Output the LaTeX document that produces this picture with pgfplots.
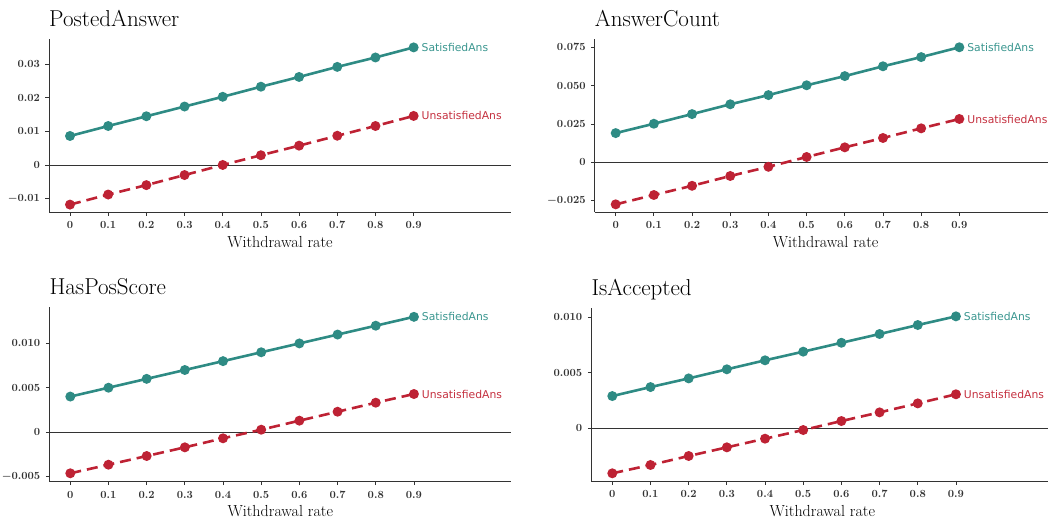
\documentclass[border=0pt]{standalone}
\usepackage{pgfplots}
\pgfplotsset{compat=1.18}
\usepackage{fontspec}
\newfontfamily\dejavu{DejaVu Sans}
\definecolor{tealc}{HTML}{2E8B84}
\definecolor{redc}{HTML}{BE2234}
\definecolor{tealt}{HTML}{3A968F}
\definecolor{redt}{HTML}{C4303F}
\definecolor{axgray}{HTML}{333333}
\pgfplotsset{
  panel/.style={
    scale only axis, width=462pt, anchor=south west,
    xmin=-0.055, xmax=1.155,
    axis x line*=bottom, axis y line*=left,
    axis line style={-, axgray, line width=0.9pt},
    tick align=outside, major tick length=3.5pt,
    tick style={axgray, line width=0.8pt},
    scaled y ticks=false, scaled x ticks=false,
    xtick={0,0.1,0.2,0.3,0.4,0.5,0.6,0.7,0.8,0.9},
    xticklabels={$0$,$0.1$,$0.2$,$0.3$,$0.4$,$0.5$,$0.6$,$0.7$,$0.8$,$0.9$},
    tick label style={font=\fontsize{11}{12}\selectfont\boldmath, text=axgray},
    xticklabel style={yshift=-2.5pt},
    yticklabel style={xshift=-2pt},
    xlabel={Withdrawal rate},
    xlabel style={font=\fontsize{16}{18}\selectfont, at={(axis description cs:0.5,0)}, anchor=base, yshift=-35pt},
    clip=false,
  },
  sat/.style={tealc, line width=2.6pt, mark=*, mark size=3.6pt, mark options={solid}},
  unsat/.style={redc, line width=2.6pt, mark=*, mark size=3.6pt, mark options={solid}, dash pattern=on 11pt off 6pt},
}
\newcommand{\paneltitle}[1]{\node[anchor=base west, inner sep=0pt, font=\fontsize{23}{26}\selectfont] at (rel axis cs:0,1) [yshift=12.5pt] {#1};}
\newcommand{\zeroline}{\draw[axgray, line width=0.8pt] ({rel axis cs:0,0} |- {axis cs:0,0}) -- ({rel axis cs:1,0} |- {axis cs:0,0});}
\newcommand{\lab}[3]{\node[anchor=west, text=#1, font=\dejavu\fontsize{10.8}{12}\selectfont, xshift=4.5pt] at (axis cs:0.9,#2) {#3};}
\begin{document}
\begin{tikzpicture}
\useasboundingbox (0,0) rectangle (1048pt,523pt);
\clip (0,0) rectangle (1048pt,523pt);
% Panel 1
\begin{axis}[panel, at={(49pt,311pt)}, height=173pt, ymin=-0.0140, ymax=0.0375,
  ytick={-0.01,0,0.01,0.02,0.03}, yticklabels={$-0.01$,$0$,$0.01$,$0.02$,$0.03$}]
\zeroline
\addplot[sat] coordinates {(0,0.00863) (0.1,0.0116) (0.2,0.0145) (0.3,0.0174) (0.4,0.0203) (0.5,0.0233) (0.6,0.0262) (0.7,0.0292) (0.8,0.0320) (0.9,0.0350)};
\addplot[unsat] coordinates {(0,-0.0118) (0.1,-0.0088) (0.2,-0.0060) (0.3,-0.0030) (0.4,0.0000) (0.5,0.0029) (0.6,0.00575) (0.7,0.0087) (0.8,0.0116) (0.9,0.0146)};
\lab{tealt}{0.0350}{SatisfiedAns}
\lab{redt}{0.0146}{UnsatisfiedAns}
\paneltitle{PostedAnswer}
\end{axis}
% Panel 2
\begin{axis}[panel, at={(594.7pt,311pt)}, height=173pt, ymin=-0.0324, ymax=0.0805,
  ytick={-0.025,0,0.025,0.05,0.075}, yticklabels={$-0.025$,$0$,$0.025$,$0.050$,$0.075$}]
\zeroline
\addplot[sat] coordinates {(0,0.0191) (0.1,0.0252) (0.2,0.0315) (0.3,0.0379) (0.4,0.0439) (0.5,0.0503) (0.6,0.0563) (0.7,0.0627) (0.8,0.0687) (0.9,0.0751)};
\addplot[unsat] coordinates {(0,-0.0274) (0.1,-0.0213) (0.2,-0.0153) (0.3,-0.0089) (0.4,-0.0029) (0.5,0.0035) (0.6,0.0098) (0.7,0.0159) (0.8,0.0222) (0.9,0.0283)};
\lab{tealt}{0.0751}{SatisfiedAns}
\lab{redt}{0.0283}{UnsatisfiedAns}
\paneltitle{AnswerCount}
\end{axis}
% Panel 3
\begin{axis}[panel, at={(49.3pt,41.3pt)}, height=174.7pt, ymin=-0.00561, ymax=0.01411,
  ytick={-0.005,0,0.005,0.01}, yticklabels={$-0.005$,$0$,$0.005$,$0.010$}]
\zeroline
\addplot[sat] coordinates {(0,0.0040) (0.1,0.0050) (0.2,0.0060) (0.3,0.0070) (0.4,0.0080) (0.5,0.0090) (0.6,0.0100) (0.7,0.0110) (0.8,0.0120) (0.9,0.0130)};
\addplot[unsat] coordinates {(0,-0.00466) (0.1,-0.00369) (0.2,-0.00271) (0.3,-0.00173) (0.4,-0.00071) (0.5,0.00026) (0.6,0.00128) (0.7,0.00229) (0.8,0.00331) (0.9,0.00429)};
\lab{tealt}{0.0130}{SatisfiedAns}
\lab{redt}{0.00429}{UnsatisfiedAns}
\paneltitle{HasPosScore}
\end{axis}
% Panel 4
\begin{axis}[panel, at={(591.3pt,41.7pt)}, height=173.6pt, ymin=-0.0048, ymax=0.01084,
  ytick={0,0.005,0.01}, yticklabels={$0$,$0.005$,$0.010$}]
\zeroline
\addplot[sat] coordinates {(0,0.00288) (0.1,0.00369) (0.2,0.00447) (0.3,0.00529) (0.4,0.0061) (0.5,0.00688) (0.6,0.00768) (0.7,0.00847) (0.8,0.00928) (0.9,0.01006)};
\addplot[unsat] coordinates {(0,-0.00408) (0.1,-0.00333) (0.2,-0.00252) (0.3,-0.00174) (0.4,-0.00096) (0.5,-0.00018) (0.6,0.00063) (0.7,0.00141) (0.8,0.00222) (0.9,0.00304)};
\lab{tealt}{0.01006}{SatisfiedAns}
\lab{redt}{0.00304}{UnsatisfiedAns}
\paneltitle{IsAccepted}
\end{axis}
\end{tikzpicture}
\end{document}
